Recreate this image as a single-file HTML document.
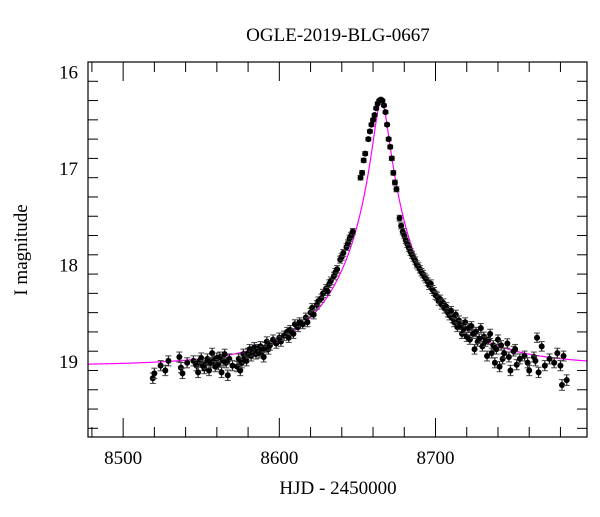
<!DOCTYPE html>
<html><head><meta charset="utf-8"><style>
html,body{margin:0;padding:0;background:#fff;}
svg text{font-family:"Liberation Serif",serif;fill:#000;}
</style></head><body>
<svg id="chart" width="600" height="512" viewBox="0 0 600 512" xmlns="http://www.w3.org/2000/svg">
<text x="338" y="41" font-size="19" text-anchor="middle">OGLE-2019-BLG-0667</text>
<text transform="translate(27,250) rotate(-90)" font-size="19" text-anchor="middle">I magnitude</text>
<text x="338" y="494" font-size="19" text-anchor="middle">HJD - 2450000</text>
<g id="ticks"></g>
<g id="model"></g>
<g id="points"></g>
<rect x="88" y="62" width="499" height="375" fill="none" stroke="#000" stroke-width="1.2"/>
</svg>
<script>
const xTickLabels=[8500,8600,8700];
const yTickLabels=[16,17,18,19];
const obsT=[8519,8520,8524,8527,8529,8536,8537,8538,8541,8545,8547,8548,8549,8550,8551,8552,8553,8554,8555,8556,8557,8558,8559,8560,8561,8562,8563,8564,8565,8566,8567,8568,8570,8573,8574,8575,8576,8577,8578,8579,8580,8581,8582,8583,8584,8585,8586,8587,8588,8589,8590,8591,8592,8593,8594,8596,8598,8600,8601,8603,8605,8606,8607,8609,8610,8612,8613,8615,8617,8618,8620,8621,8622,8624,8625,8627,8628,8630,8631,8632,8633,8635,8636,8637,8639,8640,8641,8643,8644,8645,8646,8647,8652,8653,8654,8655,8657,8658,8659,8660,8661,8662,8663,8664,8665,8666,8667,8668,8669,8670,8671,8672,8673,8674,8675,8677,8678,8679,8680,8681,8682,8683,8684,8685,8686,8687,8688,8689,8690,8691,8692,8693,8694,8695,8696,8697,8698,8699,8700,8701,8702,8703,8704,8705,8706,8707,8708,8709,8710,8711,8712,8713,8714,8715,8716,8717,8718,8719,8720,8721,8722,8723,8724,8725,8726,8727,8728,8729,8730,8731,8732,8733,8734,8735,8736,8737,8738,8739,8740,8741,8742,8743,8744,8746,8747,8748,8750,8751,8752,8754,8757,8759,8760,8763,8764,8765,8766,8768,8770,8773,8776,8778,8780,8781,8782,8784];
const obsMag=[19.18,19.13,19.05,19.1,19.0,18.96,19.07,19.13,19.02,19.0,19.05,19.12,19.0,18.97,19.05,19.08,19.03,18.98,19.1,19.02,18.92,19.0,19.06,18.97,19.04,18.96,19.12,19.0,18.93,19.02,19.15,18.98,19.05,19.06,18.98,19.1,19.02,18.93,18.97,19.0,18.92,18.88,18.95,18.9,18.86,18.93,18.88,18.92,18.85,18.9,18.96,18.86,18.8,18.88,18.84,18.78,18.82,18.76,18.8,18.74,18.7,18.76,18.68,18.72,18.62,18.65,18.6,18.62,18.55,18.6,18.5,18.45,18.52,18.42,18.38,18.35,18.3,18.25,18.28,18.2,18.17,18.12,18.08,18.05,17.95,17.92,17.88,17.82,17.78,17.73,17.7,17.66,17.1,17.05,16.92,16.85,16.7,16.62,16.55,16.5,16.45,16.38,16.33,16.3,16.29,16.3,16.35,16.42,16.55,16.7,16.78,16.9,17.05,17.15,17.22,
17.52,17.6,17.66,17.7,17.75,17.79,17.83,17.87,17.9,17.93,17.96,18.0,18.02,18.05,18.08,18.1,18.13,18.15,18.18,18.22,18.2,18.26,18.28,18.32,18.33,18.38,18.36,18.42,18.4,18.46,18.44,18.5,18.53,18.48,18.56,18.6,18.52,18.65,18.58,18.63,18.72,18.67,18.6,18.75,18.66,18.78,18.64,18.72,18.88,18.7,18.8,18.77,18.66,18.85,18.75,18.8,18.95,18.78,18.72,18.92,18.84,19.02,18.88,18.78,19.06,18.84,18.98,18.92,18.82,18.96,19.1,18.9,18.88,19.04,
18.98,18.95,19.02,19.1,18.96,19.0,18.76,19.12,18.85,19.05,18.98,19.02,18.92,19.05,19.25,18.95,19.2];
const modelParams=[8665.3,0.08,60,19.05]; // t0, u0, tE, baseline mag

const X0=88,X1=587,Y0=62,Y1=437;
const tMin=8477.5,tMax=8797,mMin=15.9,mMax=19.79;
function xs(t){return X0+(t-tMin)/(tMax-tMin)*(X1-X0);}
function ys(m){return Y0+(m-mMin)/(mMax-mMin)*(Y1-Y0);}
const NS="http://www.w3.org/2000/svg";
function mk(tag,parent,attrs){const e=document.createElementNS(NS,tag);for(const k in attrs)e.setAttribute(k,attrs[k]);parent.appendChild(e);return e;}

const tg=document.getElementById('ticks');
for(let t=8480;t<=8790;t+=20){
  const major=(t%100===0);const L=major?19:10;const x=xs(t);
  const a=mk('line',tg,{x1:x,x2:x,y1:Y1,y2:Y1-L,stroke:'#000','stroke-width':1});
  
  
  const b=mk('line',tg,{x1:x,x2:x,y1:Y0,y2:Y0+L,stroke:'#000','stroke-width':1});
  
  
}
xTickLabels.forEach(v=>{
  const t=mk('text',tg,{x:xs(v),y:464,'font-size':19,'text-anchor':'middle'});
  t.textContent=v;
  
  
});
for(let i=0;i<=19;i++){
  const m=15.9+i*0.2;if(m>19.79)break;
  const major=Math.abs(m-Math.round(m))<1e-6;const L=major?19:10;const y=ys(m);
  const a=mk('line',tg,{x1:X0,x2:X0+L,y1:y,y2:y,stroke:'#000','stroke-width':1});
  
  
  const b=mk('line',tg,{x1:X1,x2:X1-L,y1:y,y2:y,stroke:'#000','stroke-width':1});
  
  
}
yTickLabels.forEach(v=>{
  const t=mk('text',tg,{x:78,y:ys(v)+7,'font-size':19,'text-anchor':'end'});
  t.textContent=v;
  
  
});

const [t0,u0,tE,mb]=modelParams;
let d='';
for(let t=tMin;t<=tMax;t+=0.5){
  const tau=(t-t0)/tE;const u=Math.sqrt(u0*u0+tau*tau);
  const A=(u*u+2)/(u*Math.sqrt(u*u+4));const m=mb-2.5*Math.log10(A);
  d+=(d?'L':'M')+xs(t).toFixed(2)+','+ys(m).toFixed(2);
}
const mp=mk('path',document.getElementById('model'),{d:d,fill:'none',stroke:'#ff00ff','stroke-width':1.2});



const pg=document.getElementById('points');
obsT.forEach((t,i)=>{
  const m=obsMag[i];const err=0.012+0.04*Math.max(0,(m-16.3)/2.7);
  const x=xs(t),y=ys(m),ya=ys(m-err),yb=ys(m+err);
  const g=mk('g',pg,{});
  
  
  mk('line',g,{x1:x,x2:x,y1:ya,y2:yb,stroke:'#222','stroke-width':1.2});
  mk('line',g,{x1:x-3,x2:x+3,y1:ya,y2:ya,stroke:'#444','stroke-width':1});
  mk('line',g,{x1:x-3,x2:x+3,y1:yb,y2:yb,stroke:'#444','stroke-width':1});
  mk('circle',g,{cx:x,cy:y,r:3,fill:'#000'});
});
</script>
</body></html>
